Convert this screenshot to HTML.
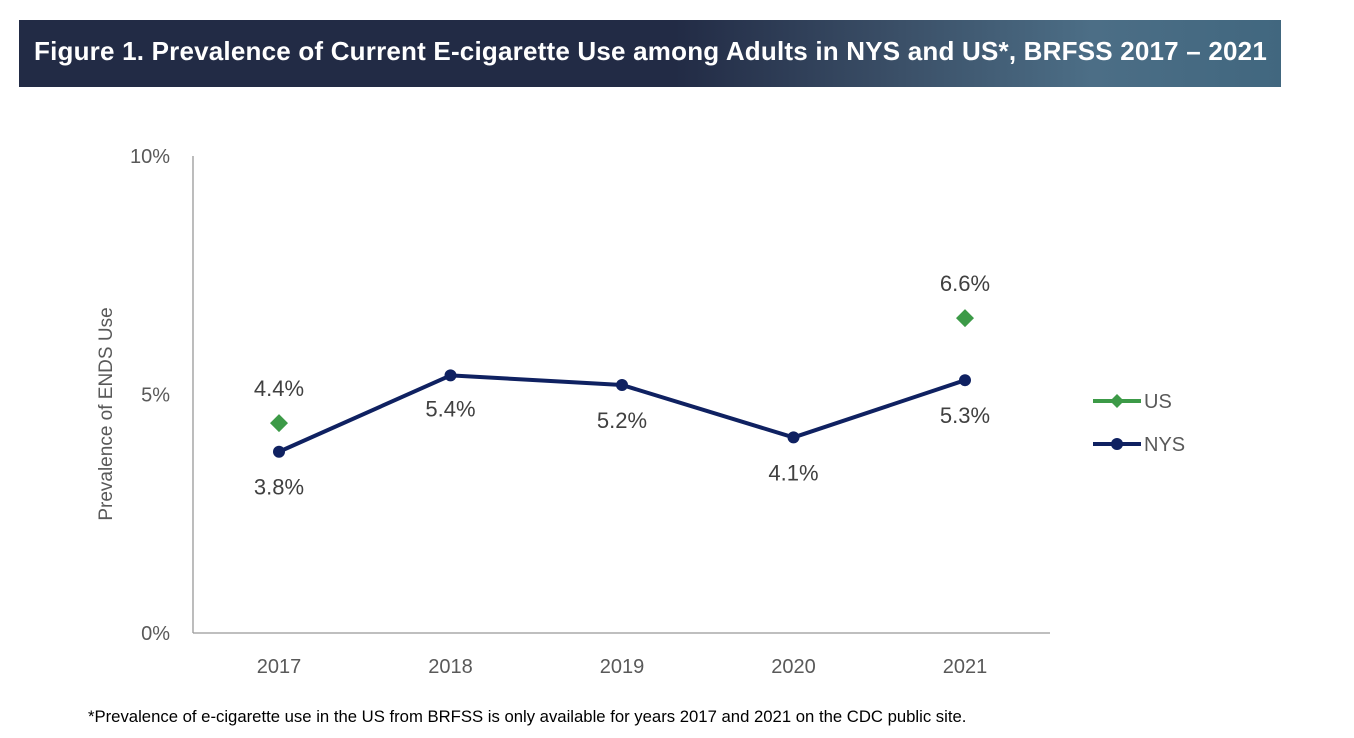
<!DOCTYPE html>
<html><head><meta charset="utf-8"><style>
body{margin:0;width:1354px;height:738px;background:#fff;overflow:hidden;font-family:"Liberation Sans",sans-serif}
#title{position:absolute;left:19px;top:20px;width:1262px;height:67px;background:linear-gradient(90deg,#222b45 0%,#222b45 52%,#3b5068 70%,#4c6e86 85%,#41677f 100%);color:#fff;font-weight:bold;font-size:26px;line-height:63px;padding-left:15px;box-sizing:border-box;letter-spacing:0.2px;white-space:nowrap}
#foot{position:absolute;left:88px;top:707px;font-size:16.7px;color:#000;white-space:nowrap}
</style></head><body>
<div id="title">Figure 1. Prevalence of Current E-cigarette Use among Adults in NYS and US*, BRFSS 2017 – 2021</div>
<svg id="chart" width="1354" height="738" style="position:absolute;left:0;top:0"></svg>
<div id="foot">*Prevalence of e-cigarette use in the US from BRFSS is only available for years 2017 and 2021 on the CDC public site.</div>
<script>
const years=["2017","2018","2019","2020","2021"];
const nys=[3.8,5.4,5.2,4.1,5.3];
const us=[4.4,null,null,null,6.6];
const yTicks=[0,5,10];
const NS="http://www.w3.org/2000/svg";
const svg=document.getElementById('chart');
const x0=279,dx=171.5,yb=633,yt=156;
const X=i=>x0+i*dx;
const Y=v=>yb-(v/10)*(yb-yt);
function mk(t,a,txt){const e=document.createElementNS(NS,t);for(const k in a)e.setAttribute(k,a[k]);if(txt!=null)e.textContent=txt;svg.appendChild(e);return e;}
let e;
e=mk('line',{x1:193,y1:yt,x2:193,y2:yb,stroke:'#999','stroke-width':1.3});


e=mk('line',{x1:193,y1:yb,x2:1050,y2:yb,stroke:'#999','stroke-width':1.3});


yTicks.forEach(t=>{e=mk('text',{x:170,y:Y(t)+7,'text-anchor':'end','font-size':20,fill:'#595959','font-family':'Liberation Sans,sans-serif'},t+'%');

});
years.forEach((y,i)=>{e=mk('text',{x:X(i),y:673,'text-anchor':'middle','font-size':20,fill:'#595959'},y);

});
e=mk('text',{x:112,y:414,'text-anchor':'middle','font-size':19,fill:'#595959',transform:'rotate(-90 112 414)'},'Prevalence of ENDS Use');


e=mk('polyline',{points:nys.map((v,i)=>X(i)+','+Y(v)).join(' '),fill:'none',stroke:'#0f2161','stroke-width':4,'stroke-linejoin':'round'});


const nysOff=[43,41,43,43,43];
nys.forEach((v,i)=>{e=mk('circle',{cx:X(i),cy:Y(v),r:6,fill:'#0f2161'});


e=mk('text',{x:X(i),y:Y(v)+nysOff[i],'text-anchor':'middle','font-size':22,fill:'#404040'},v.toFixed(1)+'%');

});
us.forEach((v,i)=>{if(v==null)return;const cx=X(i),cy=Y(v);
e=mk('polygon',{points:`${cx},${cy-9} ${cx+9},${cy} ${cx},${cy+9} ${cx-9},${cy}`,fill:'#3c9a47'});


e=mk('text',{x:cx,y:cy-27,'text-anchor':'middle','font-size':22,fill:'#404040'},v.toFixed(1)+'%');

});
e=mk('line',{x1:1093,y1:401,x2:1141,y2:401,stroke:'#3c9a47','stroke-width':4});


e=mk('polygon',{points:'1117,394 1124,401 1117,408 1110,401',fill:'#3c9a47'});


e=mk('text',{x:1144,y:408,'font-size':20,fill:'#595959'},'US');


e=mk('line',{x1:1093,y1:444,x2:1141,y2:444,stroke:'#0f2161','stroke-width':4});


e=mk('circle',{cx:1117,cy:444,r:6,fill:'#0f2161'});


e=mk('text',{x:1144,y:451,'font-size':20,fill:'#595959'},'NYS');


</script>
</body></html>
